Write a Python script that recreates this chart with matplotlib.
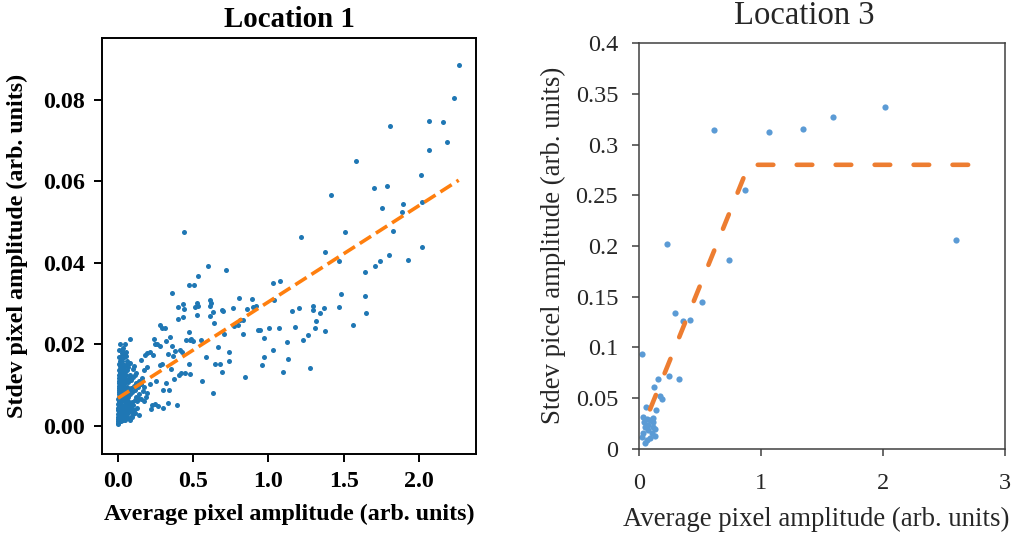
import matplotlib.pyplot as plt
from matplotlib.ticker import FixedLocator, FixedFormatter

# =====================================================
# DATA - LOCATION 1 (scatter + linear fit)
# =====================================================

loc1_x = [
    2.264, 2.233, 1.807, 2.064, 2.160, 2.188, 2.064, 1.583, 2.011, 1.701,
    1.789, 1.417, 1.756, 1.891, 1.887, 2.018, 0.441, 1.506, 1.829, 1.213,
    2.020, 1.379, 1.927, 1.466, 1.803, 1.738, 1.707, 0.599, 0.721, 1.641,
    1.075, 1.031, 0.534, 0.475, 0.506, 0.359, 1.479, 1.641, 0.805, 0.889,
    0.614, 0.619, 1.040, 0.528, 0.432, 0.399, 0.512, 0.534, 0.610, 0.439,
    0.692, 0.634, 0.701, 0.765, 0.860, 0.896, 0.920, 1.299, 1.200, 1.157,
    1.297, 1.370, 1.466, 1.341, 1.645, 0.528, 0.435, 0.401, 0.614, 0.636,
    1.315, 0.829, 0.809, 0.277, 0.293, 0.315, 0.798, 0.774, 1.177, 1.563,
    0.929, 0.945, 1.004, 1.073, 1.310, 1.379, 0.472, 0.707, 0.831, 1.262,
    1.228, 0.969, 0.552, 0.450, 0.477, 0.501, 0.488, 1.122, 0.346, 0.317,
    0.237, 0.244, 0.257, 0.279, 0.078, 0.049, 0.359, 0.667, 0.736, 1.029,
    0.415, 0.381, 0.428, 0.211, 0.191, 0.182, 0.233, 0.055, 0.027, 0.333,
    0.366, 0.151, 0.588, 0.969, 0.738, 0.643, 0.676, 0.958, 1.131, 1.273,
    1.095, 0.692, 0.470, 0.279, 0.290, 0.350, 0.191, 0.171, 0.109, 0.075,
    0.448, 0.477, 0.421, 0.404, 0.375, 0.322, 0.561, 0.843, 0.630, 0.299,
    0.341, 0.251, 0.213, 0.333, 0.392, 0.297, 0.217, 0.248, 0.264, 0.226,
    # dense cluster near the origin
    0.000, 0.002, 0.001, 0.003, 0.000, 0.004, 0.002, 0.005, 0.001, 0.003,
    0.006, 0.002, 0.004, 0.007, 0.003, 0.005, 0.008, 0.004, 0.006, 0.009,
    0.005, 0.007, 0.010, 0.006, 0.008, 0.011, 0.009, 0.012, 0.010,
    0.020, 0.028, 0.035, 0.016, 0.024, 0.032, 0.040, 0.047, 0.021, 0.030,
    0.038, 0.046, 0.055, 0.062, 0.018, 0.026, 0.034, 0.042, 0.050, 0.058,
    0.066, 0.074, 0.082, 0.090, 0.098, 0.015, 0.023, 0.031, 0.039, 0.048,
    0.056, 0.064, 0.072, 0.080, 0.088, 0.096, 0.105, 0.114, 0.122, 0.130,
    0.140, 0.150, 0.160, 0.014, 0.022, 0.030, 0.038, 0.046, 0.054, 0.062,
    0.070, 0.078, 0.086, 0.094, 0.102, 0.110, 0.118, 0.126, 0.134, 0.142,
    0.012, 0.020, 0.028, 0.036, 0.044, 0.052, 0.060, 0.068, 0.076, 0.084,
    0.092, 0.100, 0.108, 0.116, 0.124, 0.010, 0.018, 0.026, 0.034, 0.042,
    0.050, 0.066, 0.080, 0.091, 0.142, 0.060, 0.052, 0.070, 0.078, 0.045,
    0.035, 0.025, 0.100, 0.110, 0.120, 0.165, 0.175, 0.185, 0.155, 0.195,
    0.170,
    0.015, 0.022, 0.030, 0.038, 0.014, 0.020, 0.027, 0.036, 0.044, 0.013,
    0.019, 0.027, 0.035, 0.043, 0.052, 0.013, 0.020, 0.028, 0.037, 0.045,
    0.054, 0.062, 0.013, 0.021, 0.029, 0.037, 0.045, 0.053, 0.061, 0.069,
    0.015, 0.024, 0.032, 0.040, 0.058, 0.066, 0.074, 0.019, 0.027, 0.041,
    0.052, 0.013, 0.008, 0.010, 0.012,
]

loc1_y = [
    0.0887, 0.0804, 0.0737, 0.0749, 0.0746, 0.0697, 0.0676, 0.0651, 0.0615, 0.0583,
    0.0588, 0.0566, 0.0534, 0.0545, 0.0526, 0.0550, 0.0477, 0.0477, 0.0478, 0.0464,
    0.0438, 0.0427, 0.0408, 0.0405, 0.0420, 0.0405, 0.0393, 0.0393, 0.0382, 0.0377,
    0.0356, 0.0350, 0.0367, 0.0345, 0.0345, 0.0325, 0.0323, 0.0318, 0.0315, 0.0311,
    0.0309, 0.0302, 0.0309, 0.0301, 0.0299, 0.0291, 0.0291, 0.0294, 0.0295, 0.0286,
    0.0284, 0.0280, 0.0283, 0.0290, 0.0286, 0.0292, 0.0294, 0.0295, 0.0289, 0.0282,
    0.0284, 0.0290, 0.0292, 0.0277, 0.0276, 0.0272, 0.0268, 0.0262, 0.0269, 0.0253,
    0.0257, 0.0260, 0.0259, 0.0248, 0.0240, 0.0240, 0.0247, 0.0246, 0.0242, 0.0247,
    0.0236, 0.0236, 0.0239, 0.0239, 0.0239, 0.0234, 0.0230, 0.0226, 0.0226, 0.0224,
    0.0210, 0.0215, 0.0210, 0.0210, 0.0210, 0.0208, 0.0213, 0.0207, 0.0218, 0.0208,
    0.0213, 0.0202, 0.0202, 0.0195, 0.0213, 0.0200, 0.0195, 0.0194, 0.0182, 0.0186,
    0.0187, 0.0183, 0.0181, 0.0181, 0.0179, 0.0173, 0.0173, 0.0181, 0.0172, 0.0177,
    0.0171, 0.0161, 0.0169, 0.0168, 0.0160, 0.0151, 0.0151, 0.0149, 0.0164, 0.0143,
    0.0132, 0.0132, 0.0151, 0.0150, 0.0153, 0.0139, 0.0144, 0.0138, 0.0146, 0.0154,
    0.0130, 0.0128, 0.0130, 0.0124, 0.0115, 0.0105, 0.0111, 0.0119, 0.0080, 0.0088,
    0.0087, 0.0109, 0.0103, 0.0056, 0.0052, 0.0044, 0.0041, 0.0053, 0.0048, 0.0052,
    # dense cluster near the origin
    0.0004, 0.0008, 0.0013, 0.0017, 0.0021, 0.0025, 0.0030, 0.0034, 0.0039, 0.0043,
    0.0048, 0.0053, 0.0058, 0.0062, 0.0067, 0.0072, 0.0077, 0.0082, 0.0088, 0.0093,
    0.0099, 0.0105, 0.0111, 0.0118, 0.0124, 0.0131, 0.0138, 0.0146, 0.0153,
    0.0165, 0.0158, 0.0170, 0.0140, 0.0131, 0.0144, 0.0150, 0.0135, 0.0118, 0.0110,
    0.0122, 0.0115, 0.0125, 0.0138, 0.0098, 0.0090, 0.0101, 0.0094, 0.0104, 0.0096,
    0.0108, 0.0117, 0.0126, 0.0112, 0.0120, 0.0078, 0.0070, 0.0082, 0.0074, 0.0066,
    0.0080, 0.0071, 0.0086, 0.0077, 0.0092, 0.0084, 0.0098, 0.0089, 0.0104, 0.0095,
    0.0110, 0.0102, 0.0118, 0.0055, 0.0048, 0.0060, 0.0052, 0.0044, 0.0057, 0.0049,
    0.0062, 0.0054, 0.0045, 0.0058, 0.0050, 0.0064, 0.0072, 0.0060, 0.0068, 0.0078,
    0.0035, 0.0028, 0.0040, 0.0032, 0.0024, 0.0037, 0.0029, 0.0041, 0.0033, 0.0022,
    0.0036, 0.0028, 0.0040, 0.0031, 0.0045, 0.0018, 0.0012, 0.0020, 0.0014, 0.0019,
    0.0015, 0.0019, 0.0015, 0.0021, 0.0027, 0.0160, 0.0150, 0.0145, 0.0155, 0.0180,
    0.0190, 0.0185, 0.0140, 0.0125, 0.0130, 0.0085, 0.0095, 0.0070, 0.0065, 0.0080,
    0.0060,
    0.0150, 0.0145, 0.0152, 0.0140, 0.0128, 0.0122, 0.0126, 0.0130, 0.0125, 0.0108,
    0.0112, 0.0104, 0.0112, 0.0106, 0.0113, 0.0088, 0.0084, 0.0093, 0.0086, 0.0090,
    0.0088, 0.0094, 0.0068, 0.0062, 0.0070, 0.0064, 0.0072, 0.0068, 0.0062, 0.0074,
    0.0045, 0.0040, 0.0048, 0.0042, 0.0046, 0.0052, 0.0044, 0.0170, 0.0178, 0.0168,
    0.0172, 0.0160, 0.0170, 0.0185, 0.0200,
]

fit1_x = [0.0, 2.264]
fit1_y = [0.0068, 0.0603]

loc1_xticks = [0.0, 0.5, 1.0, 1.5, 2.0]
loc1_yticks = [0.00, 0.02, 0.04, 0.06, 0.08]

# =====================================================
# DATA - LOCATION 3 (scatter + piecewise fit)
# =====================================================

loc3_x = [
    0.613, 2.016, 1.586, 1.346, 1.068, 0.872, 2.594, 0.232, 0.736, 0.520,
    0.292, 0.357, 0.414, 0.022, 0.248, 0.324, 0.155, 0.123, 0.172, 0.188,
    0.060, 0.142, 0.035, 0.063, 0.090, 0.117, 0.049, 0.076, 0.104, 0.131,
    0.035, 0.022, 0.063, 0.049, 0.090, 0.112, 0.076, 0.041, 0.128, 0.118,
]
loc3_y = [
    0.314, 0.337, 0.327, 0.315, 0.312, 0.255, 0.206, 0.202, 0.186, 0.145,
    0.134, 0.126, 0.127, 0.094, 0.072, 0.069, 0.069, 0.061, 0.052, 0.049,
    0.041, 0.038, 0.032, 0.030, 0.029, 0.027, 0.022, 0.019, 0.016, 0.013,
    0.016, 0.012, 0.009, 0.006, 0.011, 0.022, 0.024, 0.027, 0.020, 0.031,
]

fit3_x = [0.09, 0.90, 2.72]
fit3_y = [0.039, 0.280, 0.280]

loc3_xticks = [0, 1, 2, 3]
loc3_yticks = [0, 0.05, 0.1, 0.15, 0.2, 0.25, 0.3, 0.35, 0.4]
loc3_ylabels = ["0", "0.05", "0.1", "0.15", "0.2", "0.25", "0.3", "0.35", "0.4"]

# =====================================================
# FIGURE
# =====================================================

plt.rcParams["font.family"] = ["Liberation Serif", "DejaVu Serif"]

fig = plt.figure(figsize=(10.21, 5.37), dpi=100)

# ---------------- Location 1 ----------------
ax1 = fig.add_axes([0.0999, 0.1546, 0.3663, 0.7746])

ax1.scatter(loc1_x, loc1_y, s=13, color="#1f77b4", linewidths=0, zorder=2)
ax1.plot(fit1_x, fit1_y, color="#ff7f0e", linestyle="--", linewidth=2.6, zorder=3)

ax1.set_xlim(-0.106, 2.379)
ax1.set_ylim(-0.0069, 0.0952)
ax1.set_xticks(loc1_xticks)
ax1.set_yticks(loc1_yticks)
ax1.set_xticklabels([f"{v:.1f}" for v in loc1_xticks])
ax1.set_yticklabels([f"{v:.2f}" for v in loc1_yticks])

for side in ax1.spines.values():
    side.set_linewidth(1.4)

ax1.tick_params(length=6, width=1.4, pad=6, labelsize=17.3)
for lab in ax1.get_xticklabels() + ax1.get_yticklabels():
    lab.set_fontweight("bold")

ax1.set_title("Location 1", fontsize=20.8, fontweight="bold", pad=8)
ax1.set_xlabel("Average pixel amplitude (arb. units)", fontsize=17.3,
               fontweight="bold", labelpad=9)
fig.text(17 / 1021, 0.5 + (537 / 2 - 246) / 537,
         "Stdev pixel amplitude (arb. units)", rotation=90,
         ha="center", va="center", fontsize=17.3, fontweight="bold")

# ---------------- Location 3 ----------------
ax3 = fig.add_axes([0.6259, 0.1639, 0.3585, 0.7560])

ax3.scatter(loc3_x, loc3_y, s=20, color="#5B9BD5", linewidths=0, zorder=2)
ax3.plot(fit3_x, fit3_y, color="#ED7D31", linewidth=3.3,
         dashes=(3.4, 5.1), dash_capstyle="round", zorder=3)

ax3.set_xlim(0, 3)
ax3.set_ylim(0, 0.4)
ax3.xaxis.set_major_locator(FixedLocator(loc3_xticks))
ax3.yaxis.set_major_locator(FixedLocator(loc3_yticks))
ax3.yaxis.set_major_formatter(FixedFormatter(loc3_ylabels))

frame_col = "#404040"
for side in ax3.spines.values():
    side.set_linewidth(1.1)
    side.set_color(frame_col)

ax3.tick_params(direction="out", length=5, width=1.1, color=frame_col,
                labelsize=17.5, labelcolor="#262626")
ax3.tick_params(axis="y", pad=10)
ax3.tick_params(axis="x", pad=12)

fig.text(804 / 1021, 1 - 24 / 537, "Location 3", ha="center",
         va="baseline", fontsize=23.5, color="#262626")
fig.text(816 / 1021, 1 - 526 / 537, "Average pixel amplitude (arb. units)",
         ha="center", va="baseline", fontsize=19.3, color="#262626")
fig.text(553 / 1021, 1 - 245 / 537, "Stdev picel amplitude (arb. units)",
         rotation=90, ha="center", va="center", fontsize=19.3, color="#262626")

fig.savefig("out.png", dpi=100)
